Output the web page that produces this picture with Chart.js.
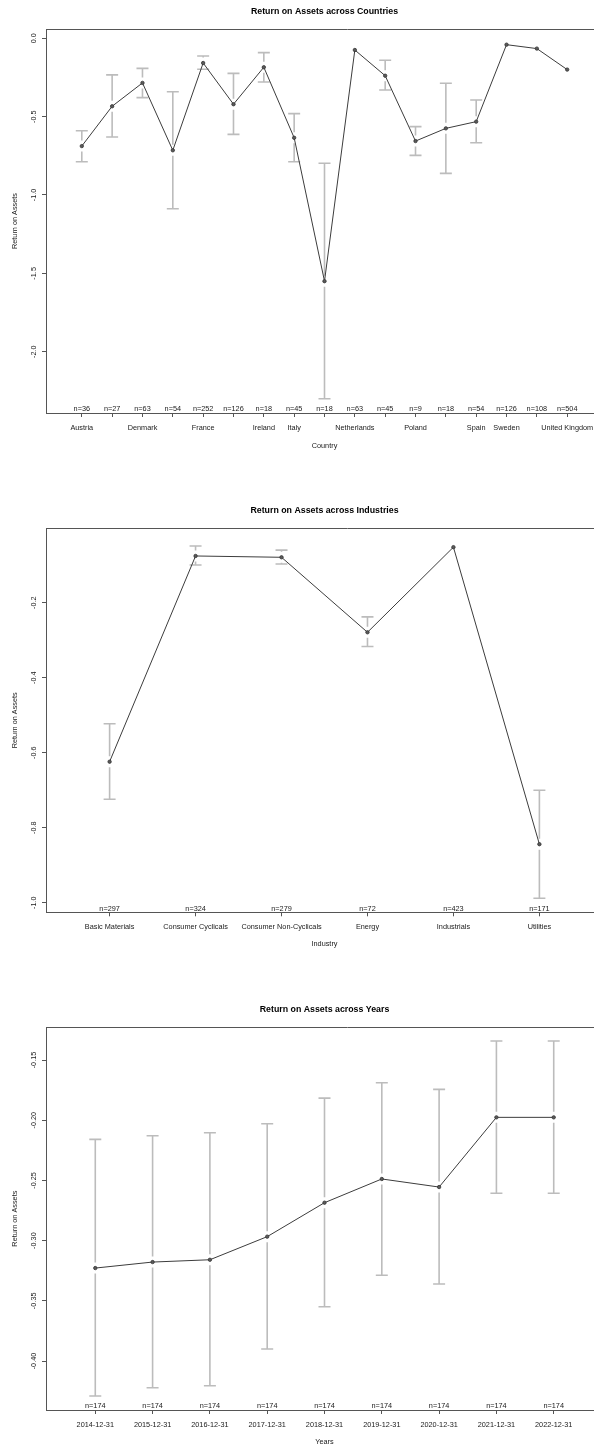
<!DOCTYPE html>
<html><head><meta charset="utf-8">
<script src="https://cdn.jsdelivr.net/npm/chart.js@4.4.1/dist/chart.umd.min.js"></script>
<style>
html,body{margin:0;padding:0;background:#fff;overflow:hidden;width:594px;height:1448px;position:relative}
canvas{position:absolute;left:0}
</style></head><body>
<canvas id="c1" width="649" height="480" style="top:0px"></canvas>
<canvas id="c2" width="649" height="480" style="top:480px"></canvas>
<canvas id="c3" width="649" height="488" style="top:960px"></canvas>
<script>
// ---- Data: countries ----
const countryLabels = ['Austria','','Denmark','','France','','Ireland','Italy','','Netherlands','','Poland','','Spain','Sweden','','United Kingdom'];
const countryMeans  = [-0.688,-0.434,-0.285,-0.715,-0.158,-0.421,-0.185,-0.635,-1.550,-0.075,-0.239,-0.656,-0.575,-0.532,-0.041,-0.066,-0.200];
const countryUpper  = [-0.590,-0.234,-0.192,-0.341,-0.113,-0.224,-0.092,-0.481,-0.798,null,-0.140,-0.564,-0.287,-0.394,null,null,null];
const countryLower  = [-0.788,-0.630,-0.379,-1.088,-0.198,-0.613,-0.279,-0.788,-2.300,null,-0.330,-0.747,-0.862,-0.667,null,null,null];
const countryN      = [36,27,63,54,252,126,18,45,18,63,45,9,18,54,126,108,504];
const countryTicks  = [0,-0.5,-1.0,-1.5,-2.0];

// ---- Data: industries ----
const industryLabels = ['Basic Materials','Consumer Cyclicals','Consumer Non-Cyclicals','Energy','Industrials','Utilities'];
const industryMeans  = [-0.624,-0.0755,-0.079,-0.279,-0.052,-0.844];
const industryUpper  = [-0.523,-0.049,-0.060,-0.238,null,-0.700];
const industryLower  = [-0.724,-0.0995,-0.097,-0.317,null,-0.988];
const industryN      = [297,324,279,72,423,171];
const industryTicks  = [-0.2,-0.4,-0.6,-0.8,-1.0];

// ---- Data: years ----
const yearLabels = ['2014-12-31','2015-12-31','2016-12-31','2017-12-31','2018-12-31','2019-12-31','2020-12-31','2021-12-31','2022-12-31'];
const yearMeans  = [-0.3228,-0.3178,-0.3159,-0.2967,-0.2685,-0.2488,-0.2555,-0.1976,-0.1976];
const yearUpper  = [-0.2159,-0.2129,-0.2104,-0.2029,-0.1816,-0.1688,-0.1744,-0.1342,-0.1342];
const yearLower  = [-0.4291,-0.4222,-0.4205,-0.3900,-0.3549,-0.3288,-0.3360,-0.2607,-0.2607];
const yearN      = [174,174,174,174,174,174,174,174,174];
const yearTicks  = [-0.15,-0.20,-0.25,-0.30,-0.35,-0.40];

const FONT = '"Liberation Sans", Arial, Helvetica, sans-serif';
const FS = 7.3;
const AXIS = '#555555';
const TXT = '#1a1a1a';

const errPlugin = {
  id: 'errbars',
  beforeDatasetsDraw(chart, args, o) {
    const {ctx} = chart, x = chart.scales.x, y = chart.scales.y;
    ctx.save();
    ctx.strokeStyle = '#bcbcbc';
    ctx.lineWidth = 1.6;
    const gap = 5.5, cap = 6;
    o.means.forEach((m, i) => {
      const up = o.upper[i], lo = o.lower[i];
      if (up == null || lo == null) return;
      const px = x.getPixelForValue(i + 1), py = y.getPixelForValue(m);
      const pu = y.getPixelForValue(up), pl = y.getPixelForValue(lo);
      ctx.beginPath();
      if (py - gap > pu) { ctx.moveTo(px, pu); ctx.lineTo(px, py - gap); }
      if (pl > py + gap) { ctx.moveTo(px, py + gap); ctx.lineTo(px, pl); }
      ctx.moveTo(px - cap, pu); ctx.lineTo(px + cap, pu);
      ctx.moveTo(px - cap, pl); ctx.lineTo(px + cap, pl);
      ctx.stroke();
    });
    ctx.restore();
  },
  afterDatasetsDraw(chart, args, o) {
    const {ctx, chartArea} = chart, x = chart.scales.x;
    ctx.save();
    // top border of plot box
    ctx.strokeStyle = AXIS; ctx.lineWidth = 1;
    ctx.beginPath();
    ctx.moveTo(chartArea.left, Math.round(chartArea.top) + 0.5);
    ctx.lineTo(chart.width, Math.round(chartArea.top) + 0.5);
    ctx.stroke();
    // n= labels
    ctx.fillStyle = TXT;
    ctx.font = FS + 'px ' + FONT;
    ctx.textAlign = 'center';
    ctx.textBaseline = 'middle';
    o.counts.forEach((n, i) => {
      ctx.fillText('n=' + n, x.getPixelForValue(i + 1), chartArea.bottom - 3.8);
    });
    ctx.restore();
  }
};

function makeChart(id, cfg) {
  const N = cfg.labels.length;
  const xMin = 0.5 - 0.04 * N, xMax = N + 0.5 + 0.04 * N;
  return new Chart(document.getElementById(id), {
    type: 'line',
    data: {
      datasets: [{
        data: cfg.means.map((m, i) => ({x: i + 1, y: m})),
        borderColor: '#3c3c3c', borderWidth: 1, tension: 0,
        pointRadius: 1.7, pointBackgroundColor: '#5a5a5a', pointBorderColor: '#333', pointBorderWidth: 0.8
      }]
    },
    options: {
      responsive: false, animation: false, devicePixelRatio: 1,
      layout: {padding: 0},
      plugins: {
        legend: {display: false}, tooltip: {enabled: false},
        title: {display: true, text: cfg.title, color: '#000',
          font: {family: FONT, size: 8.8, weight: 'bold', lineHeight: 1.2},
          padding: {top: cfg.tTop, bottom: cfg.tBot}},
        errbars: {means: cfg.means, upper: cfg.upper, lower: cfg.lower, counts: cfg.counts}
      },
      scales: {
        x: {
          type: 'linear', position: 'bottom', min: xMin, max: xMax,
          afterBuildTicks: s => { s.ticks = cfg.labels.map((_, i) => ({value: i + 1})); },
          afterFit: s => { s.height = cfg.xH; },
          ticks: {autoSkip: false, minRotation: 0, maxRotation: 0, padding: 6.5, color: TXT,
            font: {family: FONT, size: FS}, callback: v => cfg.labels[Math.round(v) - 1] || ''},
          grid: {display: true, drawOnChartArea: false, drawTicks: true, tickLength: 4, tickColor: AXIS},
          border: {display: true, color: AXIS, width: 1},
          title: {display: true, text: cfg.xTitle, color: TXT, font: {family: FONT, size: FS, lineHeight: 1.2},
            padding: {top: 0, bottom: cfg.xTitlePad}}
        },
        y: {
          type: 'linear', position: 'left', min: cfg.yMin, max: cfg.yMax,
          afterBuildTicks: s => { s.ticks = cfg.yTicks.map(v => ({value: v})); },
          afterFit: s => { s.width = 46; },
          ticks: {minRotation: 90, maxRotation: 90, crossAlign: 'center', padding: cfg.yPad, color: TXT,
            font: {family: FONT, size: FS}, callback: v => v.toFixed(cfg.dec)},
          grid: {display: true, drawOnChartArea: false, drawTicks: true, tickLength: 4, tickColor: AXIS},
          border: {display: true, color: AXIS, width: 1},
          title: {display: true, text: 'Return on Assets', color: TXT, font: {family: FONT, size: FS, lineHeight: 1.2},
            padding: {top: 10.6, bottom: 0}}
        },
        yR: {
          type: 'linear', position: 'right', display: true,
          afterFit: s => { s.width = 46; },
          ticks: {display: false}, grid: {display: false}, border: {display: false}
        }
      }
    },
    plugins: [errPlugin]
  });
}

makeChart('c1', {title: 'Return on Assets across Countries', xTitle: 'Country',
  labels: countryLabels, means: countryMeans, upper: countryUpper, lower: countryLower, counts: countryN,
  yTicks: countryTicks, dec: 1, yMin: -2.391, yMax: 0.059, tTop: 6.4, tBot: 12.04, xH: 67, xTitlePad: 29.9, yPad: 1.9});

makeChart('c2', {title: 'Return on Assets across Industries', xTitle: 'Industry',
  labels: industryLabels, means: industryMeans, upper: industryUpper, lower: industryLower, counts: industryN,
  yTicks: industryTicks, dec: 1, yMin: -1.0256, yMax: -0.0016, tTop: 25.4, tBot: 12.3, xH: 47.7, xTitlePad: 11.3, yPad: 1.9});

makeChart('c3', {title: 'Return on Assets across Years', xTitle: 'Years',
  labels: yearLabels, means: yearMeans, upper: yearUpper, lower: yearLower, counts: yearN,
  yTicks: yearTicks, dec: 2, yMin: -0.4407, yMax: -0.1228, tTop: 44, tBot: 12.74, xH: 38, xTitlePad: 1.9, yPad: 0});
</script>
</body></html>
